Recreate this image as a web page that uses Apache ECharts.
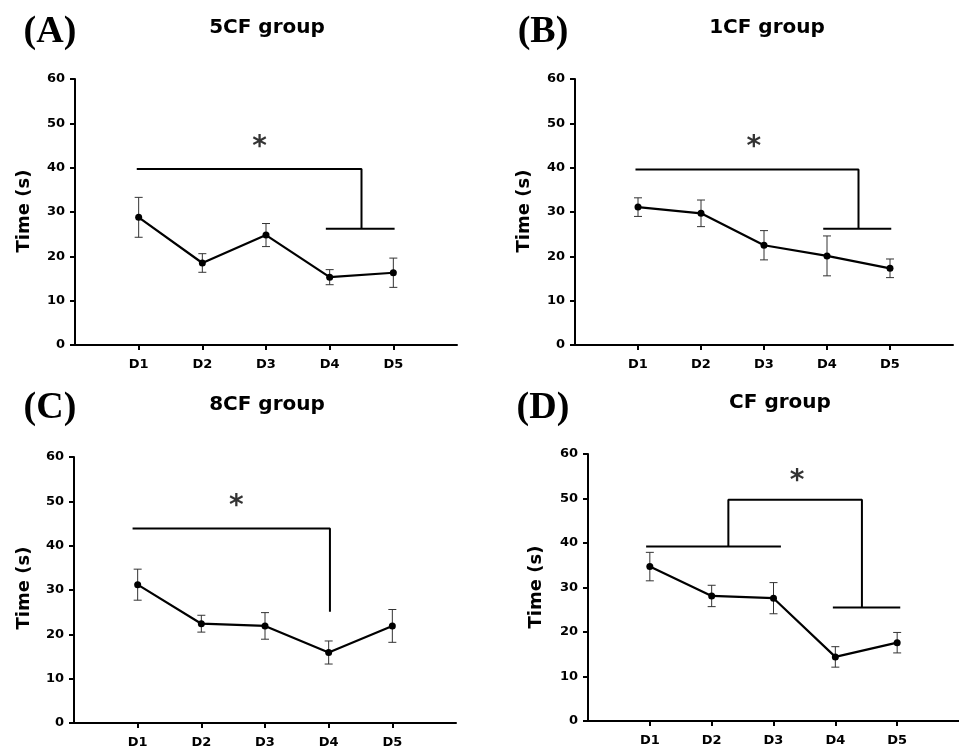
<!DOCTYPE html>
<html>
<head>
<meta charset="UTF-8">
<title>Time (s) by day, four groups</title>
<style>html, body { margin: 0; padding: 0; background: #fff; }</style>
</head>
<body>
<div id="container" style="width: 959px;height: 751px;"></div>
<script src="https://cdn.jsdelivr.net/npm/echarts@6/dist/echarts.min.js"></script>
<script type="text/javascript">
// data
var days = ['D1', 'D2', 'D3', 'D4', 'D5'];
var yTicks = [0, 10, 20, 30, 40, 50, 60];

var meanA = [28.8, 18.5, 24.8, 15.3, 16.3];
var errA = [4.5, 2.1, 2.6, 1.7, 3.3];
var meanB = [31.1, 29.7, 22.5, 20.1, 17.3];
var errB = [2.1, 3.0, 3.3, 4.5, 2.1];
var meanC = [31.2, 22.4, 21.9, 15.9, 21.9];
var errC = [3.5, 1.9, 3.0, 2.6, 3.7];
var meanD = [34.7, 28.1, 27.6, 14.4, 17.6];
var errD = [3.2, 2.4, 3.5, 2.3, 2.3];

// significance brackets, in axis units (x: day index, y: seconds)
var bracketA = [[[0.97, 39.7], [4.5, 39.7], [4.5, 26.2]], [[3.94, 26.2], [5.02, 26.2]]];
var starA = [2.9, 45.9];
var bracketB = [[[0.96, 39.6], [4.5, 39.6], [4.5, 26.2]], [[3.94, 26.2], [5.02, 26.2]]];
var starB = [2.84, 45.9];
var bracketC = [[[0.92, 43.9], [4.02, 43.9], [4.02, 25.1]]];
var starC = [2.55, 50.2];
var bracketD = [[[0.94, 39.2], [3.12, 39.2]], [[2.27, 39.2], [2.27, 49.7], [4.43, 49.7], [4.43, 25.5]], [[3.96, 25.5], [5.05, 25.5]]];
var starD = [3.38, 55.2];

var panels = [
    { letter: '(A)', title: '5CF group', mean: meanA, err: errA, brackets: bracketA, star: starA,
      grid: { left: 75, top: 79, width: 382, height: 266 }, letterPos: [50, 32], titlePos: [267, 28], namePos: [24, 211] },
    { letter: '(B)', title: '1CF group', mean: meanB, err: errB, brackets: bracketB, star: starB,
      grid: { left: 575, top: 79, width: 378, height: 266 }, letterPos: [543, 32], titlePos: [767, 28], namePos: [524, 211] },
    { letter: '(C)', title: '8CF group', mean: meanC, err: errC, brackets: bracketC, star: starC,
      grid: { left: 74, top: 457, width: 382, height: 266 }, letterPos: [50, 408], titlePos: [267, 405], namePos: [24, 588] },
    { letter: '(D)', title: 'CF group', mean: meanD, err: errD, brackets: bracketD, star: starD,
      grid: { left: 588, top: 454, width: 381, height: 267 }, letterPos: [543, 408], titlePos: [780, 403], namePos: [536, 587] }
];

var sans = 'DejaVu Sans';
var grids = [], xAxes = [], yAxes = [], series = [], graphics = [];

function errorBar(params, api) {
    var x = api.value(0);
    var top = api.coord([x, api.value(1)]);
    var bot = api.coord([x, api.value(2)]);
    var w = 4;
    var st = { stroke: '#333', lineWidth: 1 };
    return {
        type: 'group',
        children: [
            { type: 'line', shape: { x1: top[0], y1: top[1], x2: bot[0], y2: bot[1] }, style: st },
            { type: 'line', shape: { x1: top[0] - w, y1: top[1], x2: top[0] + w, y2: top[1] }, style: st },
            { type: 'line', shape: { x1: bot[0] - w, y1: bot[1], x2: bot[0] + w, y2: bot[1] }, style: st }
        ]
    };
}

panels.forEach(function (p, k) {
    grids.push(p.grid);
    xAxes.push({
        gridIndex: k, type: 'value', min: 0, max: days.length + 1,
        axisLine: { show: true, onZero: false, lineStyle: { color: '#000', width: 2 } },
        axisTick: { show: true, length: 5, customValues: [1, 2, 3, 4, 5], lineStyle: { color: '#000', width: 2 } },
        axisLabel: {
            customValues: [1, 2, 3, 4, 5],
            formatter: function (v) { return days[v - 1] || ''; },
            color: '#000', fontFamily: sans, fontWeight: 'bold', fontSize: 13, margin: 13
        },
        splitLine: { show: false }
    });
    yAxes.push({
        gridIndex: k, type: 'value', min: yTicks[0], max: yTicks[yTicks.length - 1], interval: 10,
        axisLine: { show: true, lineStyle: { color: '#000', width: 2 } },
        axisTick: { show: true, length: 5, lineStyle: { color: '#000', width: 2 } },
        axisLabel: { color: '#000', fontFamily: sans, fontWeight: 'bold', fontSize: 13, margin: 10 },
        splitLine: { show: false }
    });

    series.push({
        type: 'custom', xAxisIndex: k, yAxisIndex: k, renderItem: errorBar, z: 2,
        data: days.map(function (d, i) { return [i + 1, p.mean[i] + p.err[i], p.mean[i] - p.err[i]]; })
    });
    series.push({
        type: 'line', xAxisIndex: k, yAxisIndex: k, z: 3,
        data: days.map(function (d, i) { return [i + 1, p.mean[i]]; }),
        symbol: 'circle', symbolSize: 7,
        itemStyle: { color: '#000' },
        lineStyle: { color: '#000', width: 2.2 }
    });
    p.brackets.forEach(function (b) {
        series.push({
            type: 'line', xAxisIndex: k, yAxisIndex: k, data: b, symbol: 'none',
            lineStyle: { color: '#000', width: 2 }, silent: true
        });
    });
    series.push({
        type: 'scatter', xAxisIndex: k, yAxisIndex: k, data: [p.star], symbolSize: 0,
        itemStyle: { color: 'rgba(0,0,0,0)' },
        label: { show: true, position: 'inside', formatter: '*', color: '#000', fontFamily: sans, fontWeight: 'bold', fontSize: 28, offset: [0, 6] }
    });

    graphics.push({
        type: 'text', x: p.letterPos[0], y: p.letterPos[1],
        style: { text: p.letter, fill: '#000', font: 'bold 38px "Liberation Serif"', textAlign: 'center', textVerticalAlign: 'middle' }
    });
    graphics.push({
        type: 'text', x: p.titlePos[0], y: p.titlePos[1],
        style: { text: p.title, fill: '#000', font: 'bold 20px "DejaVu Sans"', textAlign: 'center', textVerticalAlign: 'middle' }
    });
    graphics.push({
        type: 'text', x: p.namePos[0], y: p.namePos[1], rotation: Math.PI / 2,
        style: { text: 'Time (s)', fill: '#000', font: 'bold 18px "DejaVu Sans"', textAlign: 'center', textVerticalAlign: 'middle' }
    });
});

var myChart = echarts.init(document.getElementById('container'));
myChart.setOption({
    backgroundColor: '#fff',
    animation: false,
    grid: grids,
    xAxis: xAxes,
    yAxis: yAxes,
    series: series,
    graphic: graphics
});
</script>
</body>
</html>
